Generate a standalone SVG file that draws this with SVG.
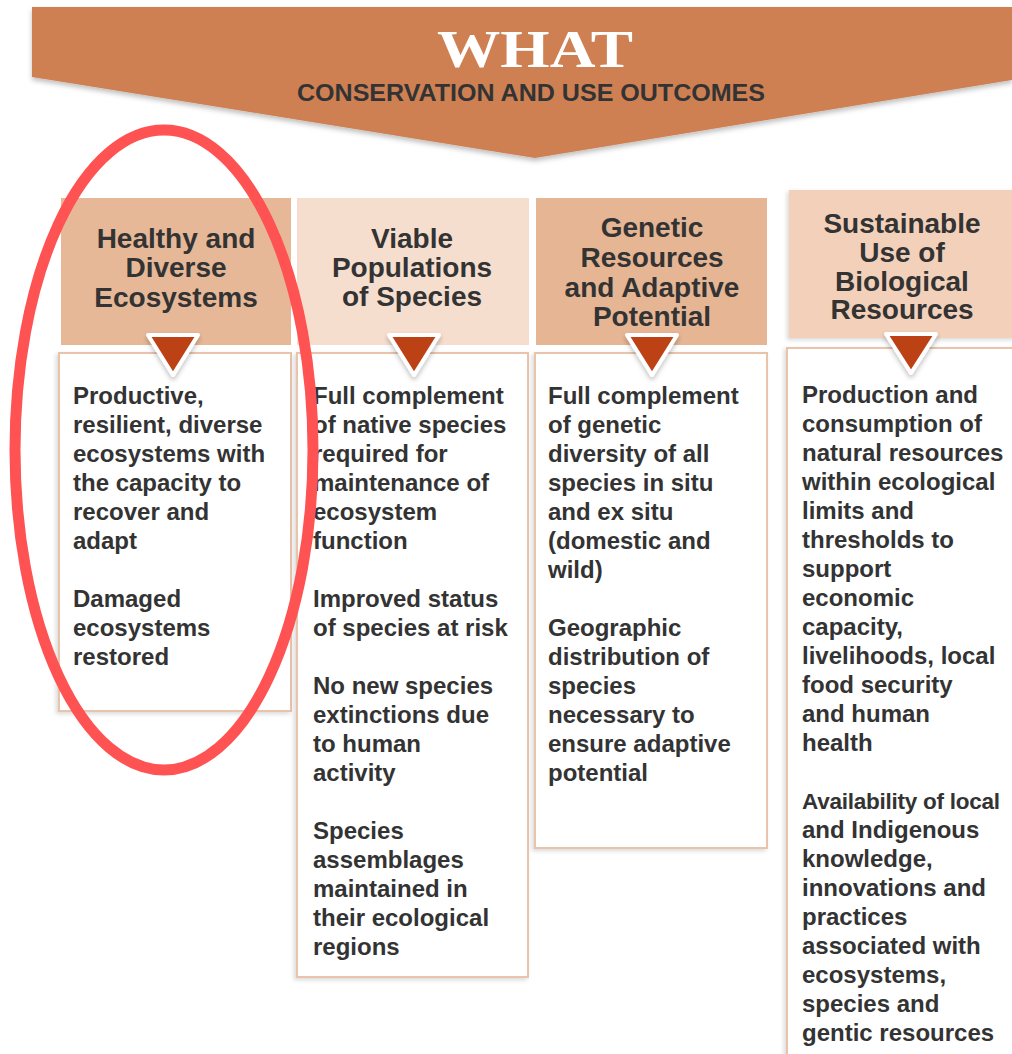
<svg xmlns="http://www.w3.org/2000/svg" width="1012" height="1054" viewBox="0 0 1012 1054">
<defs>
<style>
.hd{font-family:"Liberation Sans",Arial,sans-serif;font-weight:bold;font-size:28px;fill:#333;text-anchor:middle}
.bd{font-family:"Liberation Sans",Arial,sans-serif;font-weight:bold;font-size:24px;fill:#333}
.box{fill:#fff;stroke:#E9C3AA;stroke-width:2}
.tri{fill:#BC4219;stroke:#fff;stroke-width:4;stroke-linejoin:round}
</style>
<filter id="sh" x="-10%" y="-10%" width="120%" height="130%">
<feDropShadow dx="0" dy="3" stdDeviation="2.5" flood-color="#000" flood-opacity="0.25"/>
</filter>
<filter id="sh2" x="-10%" y="-10%" width="120%" height="120%">
<feDropShadow dx="-2" dy="2" stdDeviation="2" flood-color="#000" flood-opacity="0.15"/>
</filter>
</defs>
<rect width="1012" height="1054" fill="#fff"/>

<g id="banner">
<polygon points="32,7 1012,7 1012,80 535,158 32,77" fill="#CE8053" filter="url(#sh)"/>
<text x="535" y="67" font-family="'Liberation Serif','Times New Roman',serif" font-weight="bold" font-size="52" fill="#fff" text-anchor="middle" textLength="196" lengthAdjust="spacingAndGlyphs">WHAT</text>
<text x="531" y="101" font-family="'Liberation Sans',Arial,sans-serif" font-weight="bold" font-size="24" fill="#333" text-anchor="middle" textLength="468" lengthAdjust="spacingAndGlyphs">CONSERVATION AND USE OUTCOMES</text>
</g>

<g id="col1">
<rect x="61" y="198" width="230" height="147" fill="#E6B897"/>
<rect class="box" x="59" y="353" width="232" height="358" filter="url(#sh2)"/>
<text class="hd"><tspan x="176" y="248">Healthy and</tspan><tspan x="176" y="277">Diverse</tspan><tspan x="176" y="307">Ecosystems</tspan></text>
<polygon class="tri" points="148,335 198,335 173,375" filter="url(#sh)"/>
<text class="bd"><tspan x="73" y="404">Productive,</tspan><tspan x="73" dy="29">resilient, diverse</tspan><tspan x="73" dy="29">ecosystems with</tspan><tspan x="73" dy="29">the capacity to</tspan><tspan x="73" dy="29">recover and</tspan><tspan x="73" dy="29">adapt</tspan><tspan x="73" dy="58">Damaged</tspan><tspan x="73" dy="29">ecosystems</tspan><tspan x="73" dy="29">restored</tspan></text>
</g>

<g id="col2">
<rect x="297" y="198" width="232" height="147" fill="#F6DECF"/>
<rect class="box" x="297" y="353" width="231" height="624" filter="url(#sh2)"/>
<text class="hd"><tspan x="412" y="248">Viable</tspan><tspan x="412" y="277">Populations</tspan><tspan x="412" y="306">of Species</tspan></text>
<polygon class="tri" points="389,335 439,335 414,375" filter="url(#sh)"/>
<text class="bd"><tspan x="313" y="404">Full complement</tspan><tspan x="313" dy="29">of native species</tspan><tspan x="313" dy="29">required for</tspan><tspan x="313" dy="29">maintenance of</tspan><tspan x="313" dy="29">ecosystem</tspan><tspan x="313" dy="29">function</tspan><tspan x="313" dy="58">Improved status</tspan><tspan x="313" dy="29">of species at risk</tspan><tspan x="313" dy="58">No new species</tspan><tspan x="313" dy="29">extinctions due</tspan><tspan x="313" dy="29">to human</tspan><tspan x="313" dy="29">activity</tspan><tspan x="313" dy="58">Species</tspan><tspan x="313" dy="29">assemblages</tspan><tspan x="313" dy="29">maintained in</tspan><tspan x="313" dy="29">their ecological</tspan><tspan x="313" dy="29">regions</tspan></text>
</g>

<g id="col3">
<rect x="536" y="198" width="231" height="147" fill="#E6B594"/>
<rect class="box" x="535" y="353" width="232" height="495" filter="url(#sh2)"/>
<text class="hd"><tspan x="652" y="237">Genetic</tspan><tspan x="652" y="267">Resources</tspan><tspan x="652" y="297">and Adaptive</tspan><tspan x="652" y="326">Potential</tspan></text>
<polygon class="tri" points="627,335 677,335 652,375" filter="url(#sh)"/>
<text class="bd"><tspan x="548" y="404">Full complement</tspan><tspan x="548" dy="29">of genetic</tspan><tspan x="548" dy="29">diversity of all</tspan><tspan x="548" dy="29">species in situ</tspan><tspan x="548" dy="29">and ex situ</tspan><tspan x="548" dy="29">(domestic and</tspan><tspan x="548" dy="29">wild)</tspan><tspan x="548" dy="58">Geographic</tspan><tspan x="548" dy="29">distribution of</tspan><tspan x="548" dy="29">species</tspan><tspan x="548" dy="29">necessary to</tspan><tspan x="548" dy="29">ensure adaptive</tspan><tspan x="548" dy="29">potential</tspan></text>
</g>

<g id="col4">
<rect x="789" y="190" width="240" height="148" fill="#F2D0BA" filter="url(#sh2)"/>
<rect class="box" x="787" y="348" width="240" height="720" filter="url(#sh2)"/>
<text class="hd"><tspan x="902" y="233">Sustainable</tspan><tspan x="902" y="262">Use of</tspan><tspan x="902" y="291">Biological</tspan><tspan x="902" y="319">Resources</tspan></text>
<polygon class="tri" points="886,334 936,334 911,373" filter="url(#sh)"/>
<text class="bd"><tspan x="802" y="403">Production and</tspan><tspan x="802" dy="29">consumption of</tspan><tspan x="802" dy="29">natural resources</tspan><tspan x="802" dy="29">within ecological</tspan><tspan x="802" dy="29">limits and</tspan><tspan x="802" dy="29">thresholds to</tspan><tspan x="802" dy="29">support</tspan><tspan x="802" dy="29">economic</tspan><tspan x="802" dy="29">capacity,</tspan><tspan x="802" dy="29">livelihoods, local</tspan><tspan x="802" dy="29">food security</tspan><tspan x="802" dy="29">and human</tspan><tspan x="802" dy="29">health</tspan><tspan x="802" dy="58" style="font-size:22.5px;letter-spacing:-0.25px">Availability of local</tspan><tspan x="802" dy="29">and Indigenous</tspan><tspan x="802" dy="29">knowledge,</tspan><tspan x="802" dy="29">innovations and</tspan><tspan x="802" dy="29">practices</tspan><tspan x="802" dy="29">associated with</tspan><tspan x="802" dy="29">ecosystems,</tspan><tspan x="802" dy="29">species and</tspan><tspan x="802" dy="29">gentic resources</tspan></text>
</g>

<g id="highlight">
<ellipse cx="164" cy="450" rx="149" ry="320" fill="none" stroke="#FF5252" stroke-width="11"/>
</g>
</svg>
